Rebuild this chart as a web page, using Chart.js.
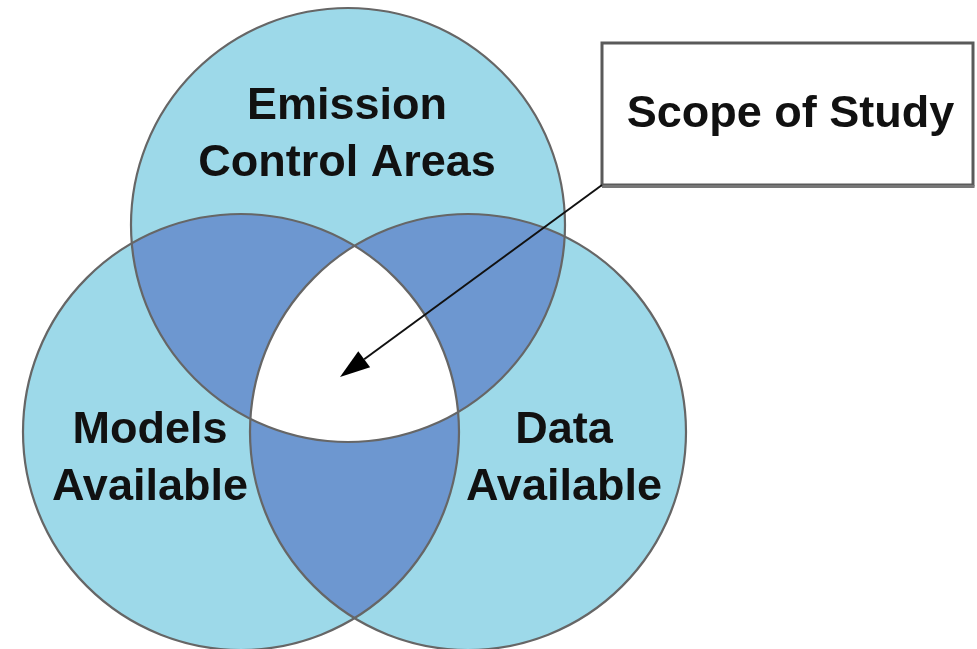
<!DOCTYPE html>
<html>
<head>
<meta charset="utf-8">
<script src="https://cdn.jsdelivr.net/npm/chart.js@4/dist/chart.umd.min.js"></script>
<style>
  html, body { margin: 0; padding: 0; background: #fff; }
  #wrap { width: 977px; height: 649px; }
</style>
</head>
<body>
<div id="wrap"><canvas id="venn" width="977" height="649"></canvas></div>
<script>
// circles of the diagram (units = picture pixels)
const circleNames = ['Emission Control Areas', 'Models Available', 'Data Available'];
const centerX = [348, 241, 468];
const centerY = [225, 432, 432];
const radius = [217, 218, 218];

// labels
const labelLines = [['Emission', 'Control Areas'], ['Models', 'Available'], ['Data', 'Available']];
const labelX = [347, 150, 564];
const labelY = [119, 443, 443];

// callout
const calloutText = 'Scope of Study';
const calloutBox = [602, 43, 973, 185];
const calloutTarget = [340, 377];

const lightBlue = '#9dd9e9';
const darkBlue = '#6d97d0';
const outline = '#666666';

function circlePx(chart, i) {
  const x = chart.scales.x, y = chart.scales.y;
  const px = x.getPixelForValue(centerX[i]);
  return {
    px: px,
    py: y.getPixelForValue(centerY[i]),
    pr: x.getPixelForValue(centerX[i] + radius[i]) - px
  };
}

// fills : single circles, pair overlaps, triple overlap
const vennRegions = {
  id: 'vennRegions',
  beforeDatasetsDraw(chart) {
    const ctx = chart.ctx;
    const path = i => {
      const c = circlePx(chart, i);
      ctx.beginPath();
      ctx.arc(c.px, c.py, c.pr, 0, Math.PI * 2);
    };
    ctx.save();
    for (let i = 0; i < centerX.length; i++) {
      path(i);
      ctx.fillStyle = lightBlue;
      ctx.fill();
    }
    const pairs = [[0, 1], [0, 2], [1, 2]];
    pairs.forEach(([a, b]) => {
      ctx.save();
      path(a); ctx.clip();
      path(b);
      ctx.fillStyle = darkBlue;
      ctx.fill();
      ctx.restore();
    });
    ctx.save();
    path(0); ctx.clip();
    path(1); ctx.clip();
    path(2);
    ctx.fillStyle = '#ffffff';
    ctx.fill();
    ctx.restore();
    ctx.restore();
  }
};

// texts, box and arrow
const vennLabels = {
  id: 'vennLabels',
  afterDraw(chart) {
    const {ctx, scales: {x, y}} = chart;
    ctx.save();
    ctx.font = 'bold 45px "Liberation Sans", Arial, sans-serif';
    ctx.fillStyle = '#111';
    ctx.textAlign = 'center';
    ctx.textBaseline = 'alphabetic';
    labelLines.forEach((lines, i) => {
      lines.forEach((t, j) => {
        ctx.fillText(t, x.getPixelForValue(labelX[i]), y.getPixelForValue(labelY[i] + j * 57));
      });
    });

    // box
    const bx0 = x.getPixelForValue(calloutBox[0]), by0 = y.getPixelForValue(calloutBox[1]);
    const bx1 = x.getPixelForValue(calloutBox[2]), by1 = y.getPixelForValue(calloutBox[3]);
    ctx.fillStyle = '#fff';
    ctx.fillRect(bx0, by0, bx1 - bx0, by1 - by0);
    ctx.strokeStyle = '#5a5a5a';
    ctx.lineWidth = 3;
    ctx.strokeRect(bx0, by0, bx1 - bx0, by1 - by0);
    ctx.fillStyle = '#777';
    ctx.fillRect(bx0, by1, bx1 - bx0 + 1.5, 3);
    ctx.fillStyle = '#111';
    ctx.textAlign = 'center';
    ctx.fillText(calloutText, (bx0 + bx1) / 2 + 3, by0 + 84);

    // arrow
    const tx = x.getPixelForValue(calloutTarget[0]), ty = y.getPixelForValue(calloutTarget[1]);
    const ang = Math.atan2(ty - by1, tx - bx0);
    const headLen = 30, headW = 10;
    const baseX = tx - headLen * Math.cos(ang), baseY = ty - headLen * Math.sin(ang);
    ctx.strokeStyle = '#111';
    ctx.lineWidth = 2;
    ctx.beginPath();
    ctx.moveTo(bx0, by1);
    ctx.lineTo(baseX, baseY);
    ctx.stroke();
    ctx.beginPath();
    ctx.moveTo(tx, ty);
    ctx.lineTo(baseX + headW * Math.sin(ang), baseY - headW * Math.cos(ang));
    ctx.lineTo(baseX - headW * Math.sin(ang), baseY + headW * Math.cos(ang));
    ctx.closePath();
    ctx.fillStyle = '#000';
    ctx.fill();
    ctx.restore();
  }
};

const data = {
  datasets: [{
    label: 'Venn',
    data: centerX.map((cx, i) => ({x: cx, y: centerY[i], name: circleNames[i]})),
    pointRadius: c => circlePx(c.chart, c.dataIndex).pr,
    pointHoverRadius: c => circlePx(c.chart, c.dataIndex).pr,
    backgroundColor: 'rgba(0,0,0,0)',
    borderColor: outline,
    borderWidth: 2.2,
    clip: false
  }]
};

const config = {
  type: 'scatter',
  data,
  options: {
    responsive: false,
    animation: false,
    devicePixelRatio: 1,
    events: [],
    layout: { padding: 0 },
    plugins: {
      legend: { display: false },
      tooltip: { enabled: false }
    },
    scales: {
      x: { type: 'linear', min: 0, max: 977, display: false },
      y: { type: 'linear', min: 0, max: 649, reverse: true, display: false }
    }
  },
  plugins: [vennRegions, vennLabels]
};

const myChart = new Chart(document.getElementById('venn'), config);
</script>
</body>
</html>
